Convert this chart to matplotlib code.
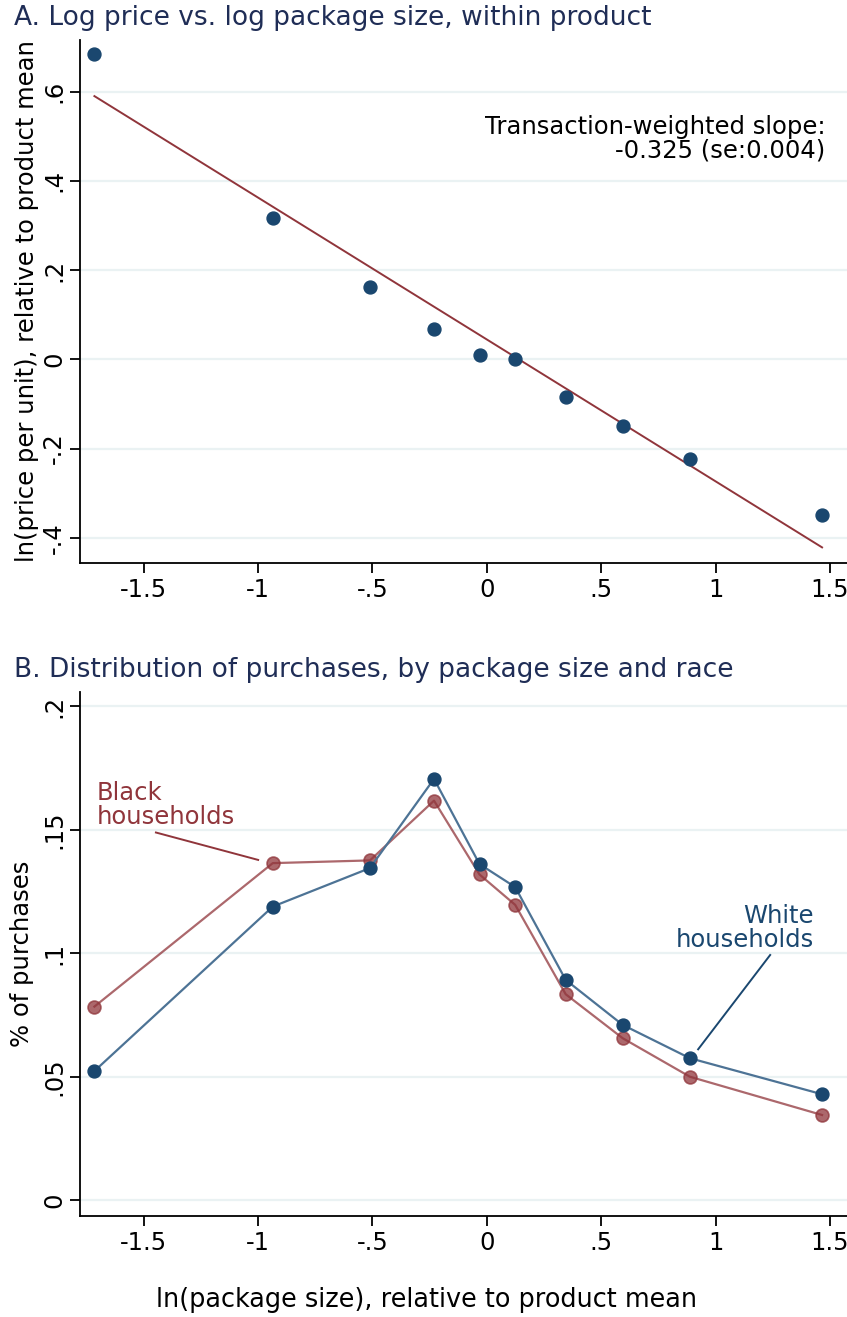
import numpy as np
import matplotlib
matplotlib.use("Agg")
import matplotlib.pyplot as plt

plt.rcParams['font.family'] = ['DejaVu Sans']
plt.rcParams['axes.unicode_minus'] = False

# bin midpoints: ln(package size) relative to product mean
size_bins = [-1.716, -0.936, -0.511, -0.231, -0.032, 0.124, 0.345, 0.594, 0.888, 1.466]

# panel A: ln(price per unit), relative to product mean
log_price = [0.685, 0.317, 0.163, 0.067, 0.010, 0.000, -0.084, -0.150, -0.223, -0.349]
fit_intercept = 0.0445
fit_slope = -0.318

# panel B: share of purchases
white_share = [0.0523, 0.1189, 0.1345, 0.1706, 0.1361, 0.1268, 0.0892, 0.0710, 0.0575, 0.0429]
black_share = [0.0784, 0.1365, 0.1376, 0.1618, 0.1319, 0.1196, 0.0834, 0.0656, 0.0500, 0.0345]

xticks = [-1.5, -1, -.5, 0, .5, 1, 1.5]
xticklabels = ['-1.5', '-1', '-.5', '0', '.5', '1', '1.5']

navy = '#1a476f'
navy_line = '#4d7395'
maroon = '#90353b'
title_col = '#1f2d56'
grid_col = '#eaf2f3'
fs = 17.5

fig = plt.figure(figsize=(8.47, 13.17), dpi=100)
axA = fig.add_axes([80/847, 1-563/1317, 767/847, (563-40)/1317])
axB = fig.add_axes([80/847, 1-1216/1317, 767/847, (1216-692)/1317])

def style(ax, yticks, ylabels):
    for s in ['top', 'right']:
        ax.spines[s].set_visible(False)
    for s in ['left', 'bottom']:
        ax.spines[s].set_linewidth(1.3)
    ax.set_xticks(xticks)
    ax.set_xticklabels(xticklabels)
    ax.set_yticks(yticks)
    ax.set_yticklabels(ylabels, rotation=90, va='center')
    ax.tick_params(axis='both', length=7, width=1.3, labelsize=fs, direction='out')
    ax.tick_params(axis='y', pad=3)
    ax.tick_params(axis='x', pad=4)
    ax.grid(axis='y', color=grid_col, linewidth=1.6)
    ax.set_axisbelow(True)
    ax.set_xlim(-1.779, 1.575)

# ---- panel A
style(axA, [-.4, -.2, 0, .2, .4, .6], ['-.4', '-.2', '0', '.2', '.4', '.6'])
axA.set_ylim(-0.4567, 0.716)
xf = np.array([size_bins[0], size_bins[-1]])
axA.plot(xf, fit_intercept + fit_slope*xf, color=maroon, lw=1.4, zorder=2)
axA.plot(size_bins, log_price, 'o', color=navy, ms=9.3, zorder=3)
axA.set_ylabel('ln(price per unit), relative to product mean', fontsize=fs, labelpad=2)
axA.text(1.48, 0.548, 'Transaction-weighted slope:\n-0.325 (se:0.004)', ha='right', va='top',
         fontsize=fs, linespacing=1.0)
fig.text(14/847, 1-18/1317, 'A. Log price vs. log package size, within product',
         fontsize=19, color=title_col, va='center', ha='left')

# ---- panel B
style(axB, [0, .05, .1, .15, .2], ['0', '.05', '.1', '.15', '.2'])
axB.set_ylim(-0.0064, 0.2058)
axB.plot(size_bins, black_share, '-', color=maroon, alpha=0.75, lw=1.6, zorder=2)
axB.plot(size_bins, black_share, 'o', color=maroon, mfc=maroon, mec=maroon, alpha=0.75,
         ms=9.3, mew=1.2, zorder=3)
axB.plot(size_bins, white_share, '-', color=navy_line, lw=1.6, zorder=4)
axB.plot(size_bins, white_share, 'o', color=navy, ms=9.3, zorder=5)
axB.set_ylabel('% of purchases', fontsize=fs, labelpad=6)
fig.text(426/847, 1-1300/1317, 'ln(package size), relative to product mean', fontsize=18.4,
         ha='center', va='center')

axB.text(-1.705, 0.1503, 'Black\nhouseholds', color=maroon, fontsize=fs, ha='left',
         va='bottom', linespacing=1.0)
axB.plot([-1.447, -1.0], [0.1489, 0.1378], color=maroon, lw=1.4, zorder=3)
axB.text(1.431, 0.1005, 'White\nhouseholds', color=navy, fontsize=fs, ha='right',
         va='bottom', linespacing=1.0)
axB.plot([1.239, 0.924], [0.0993, 0.0611], color=navy, lw=1.4, zorder=6)
fig.text(14/847, 1-670/1317, 'B. Distribution of purchases, by package size and race',
         fontsize=19, color=title_col, va='center', ha='left')

fig.savefig('out.png', dpi=100)
